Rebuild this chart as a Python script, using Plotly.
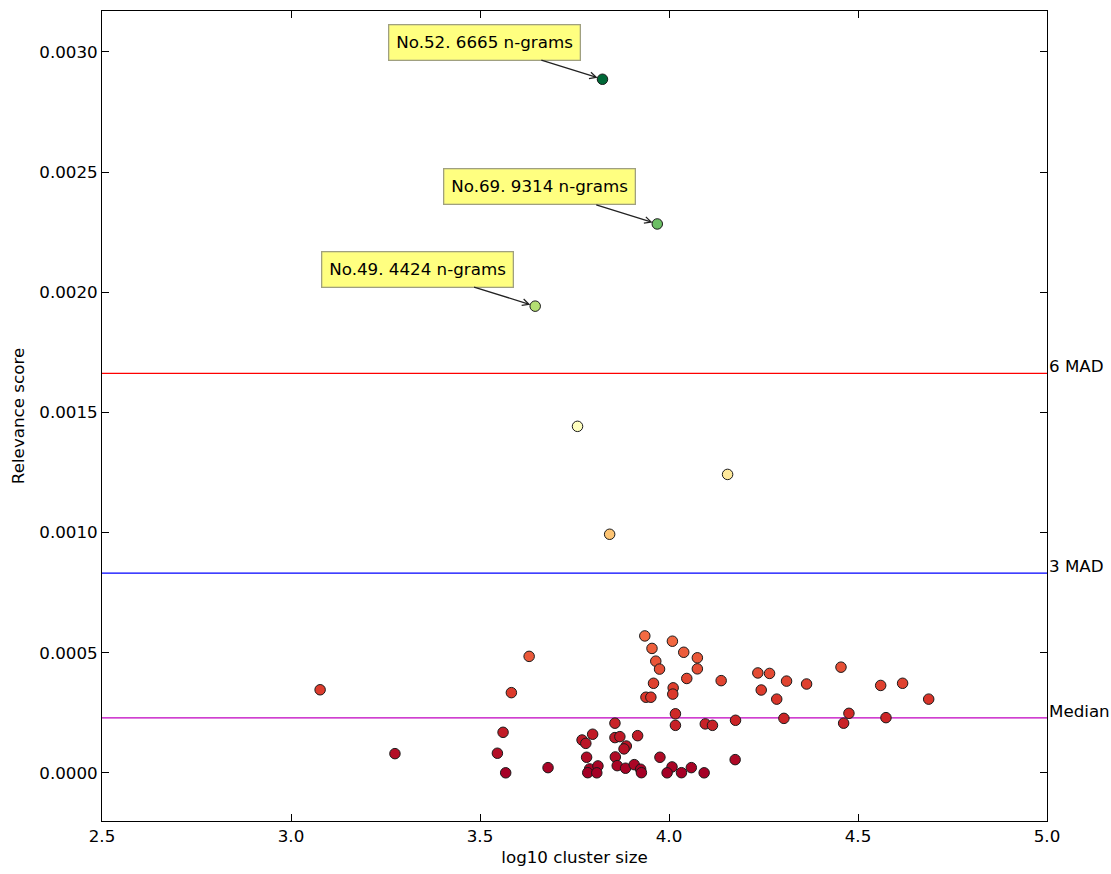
import math
import plotly.graph_objects as go

# log10 cluster size and relevance score for each cluster
log_size = [3.936, 4.009, 3.955, 4.039, 4.075, 3.630, 3.965, 3.975, 4.075, 4.235,
            4.266, 4.047, 4.138, 3.959, 4.011, 4.244, 3.583, 4.010, 3.939, 3.952,
            4.285, 4.017, 3.857, 4.017, 4.096, 4.115, 4.176, 3.561, 3.798, 3.770,
            3.780, 3.857, 3.870, 3.917, 3.887, 3.881, 3.546, 3.782, 3.858, 3.976,
            4.175, 3.680, 3.790, 3.812, 3.863, 3.885, 3.908, 3.925, 4.008, 4.059,
            3.568, 3.785, 3.809, 3.927, 3.995, 4.033, 4.093, 4.455, 4.311, 4.364,
            4.560, 4.618, 4.687, 4.304, 4.476, 4.462, 4.574, 3.077, 3.275,
            3.824, 3.969, 3.646, 3.758, 4.155, 3.843]
relevance = [0.000570, 0.000548, 0.000518, 0.000502, 0.000479, 0.000485, 0.000465, 0.000432, 0.000433, 0.000416,
             0.000414, 0.000393, 0.000384, 0.000373, 0.000354, 0.000345, 0.000334, 0.000328, 0.000315, 0.000315,
             0.000307, 0.000246, 0.000207, 0.000198, 0.000204, 0.000198, 0.000219, 0.000169, 0.000161, 0.000137,
             0.000123, 0.000147, 0.000151, 0.000155, 0.000112, 0.000100, 0.0000819, 0.0000652, 0.0000665, 0.0000652,
             0.0000553, 0.000022, 0.0000166, 0.0000291, 0.0000303, 0.0000195, 0.0000345, 0.0000154, 0.0000249, 0.000022,
             0.0000005, 0.000001, 0.0000005, 0.000001, 0.0000005, 0.000001, 0.0000005, 0.000440, 0.000382, 0.000370,
             0.000364, 0.000373, 0.000307, 0.000227, 0.000248, 0.000207, 0.000230, 0.000346, 0.0000802,
             0.002886, 0.002284, 0.001942, 0.001442, 0.001242, 0.000993]

# reference lines
line_values = [0.000229, 0.000831, 0.001662]
line_labels = ["Median", "3 MAD", "6 MAD"]
line_colors = ["#c000c0", "#0000ff", "#ff0000"]

# labelled clusters
label_ids = [52, 69, 49]
label_sizes = [6665, 9314, 4424]
label_scores = [0.002886, 0.002284, 0.001942]

x_ticks = [2.5, 3.0, 3.5, 4.0, 4.5, 5.0]
y_ticks = [0.0, 0.0005, 0.0010, 0.0015, 0.0020, 0.0025, 0.0030]

FS = 16.7

fig = go.Figure()
for v, lab, c in zip(line_values, line_labels, line_colors):
    fig.add_shape(type="line", xref="paper", x0=0, x1=1, yref="y", y0=v, y1=v,
                  line=dict(color=c, width=1.2), layer="below")
    fig.add_annotation(xref="paper", x=1.0, yref="y", y=v, text=lab,
                       showarrow=False, xanchor="left", yanchor="middle", yshift=7,
                       font=dict(size=FS, color="black"))

fig.add_trace(go.Scatter(
    x=log_size, y=relevance, mode="markers",
    marker=dict(size=10.5, color=relevance, colorscale="RdYlGn",
                cmin=min(relevance), cmax=max(relevance),
                line=dict(color="#1a1a1a", width=1)),
    showlegend=False, hoverinfo="x+y"))

for cid, sz, sc in zip(label_ids, label_sizes, label_scores):
    fig.add_annotation(x=math.log10(sz), y=sc, xref="x", yref="y",
                       text=f"No.{cid}. {sz} n-grams",
                       showarrow=True, arrowhead=5, arrowsize=1, arrowwidth=1.3,
                       arrowcolor="#222222", ax=-118, ay=-37, standoff=5,
                       bgcolor="#ffff80", bordercolor="#a0a080",
                       borderwidth=1.3, borderpad=7,
                       font=dict(size=FS, color="black"))

axis_common = dict(showline=True, linecolor="black", linewidth=1, mirror="ticks",
                   ticks="inside", ticklen=7, tickcolor="black", showgrid=False,
                   zeroline=False, tickfont=dict(size=FS, color="black"))

fig.update_xaxes(range=[2.5, 5.0], tickvals=x_ticks, tickformat=".1f",
                 title=dict(text="log10 cluster size", font=dict(size=FS, color="black"), standoff=6),
                 **axis_common)
fig.update_yaxes(range=[-0.0002, 0.00317], tickvals=y_ticks, tickformat=".4f",
                 title=dict(text="Relevance score", font=dict(size=FS, color="black"), standoff=10),
                 **axis_common)

fig.update_layout(width=1111, height=874, plot_bgcolor="white", paper_bgcolor="white",
                  margin=dict(l=102, r=64, t=10, b=52),
                  font=dict(family="DejaVu Sans", size=FS, color="black"))

fig.write_html("out.html", config={"displayModeBar": False},
               post_script="document.body.style.margin='0px';")
